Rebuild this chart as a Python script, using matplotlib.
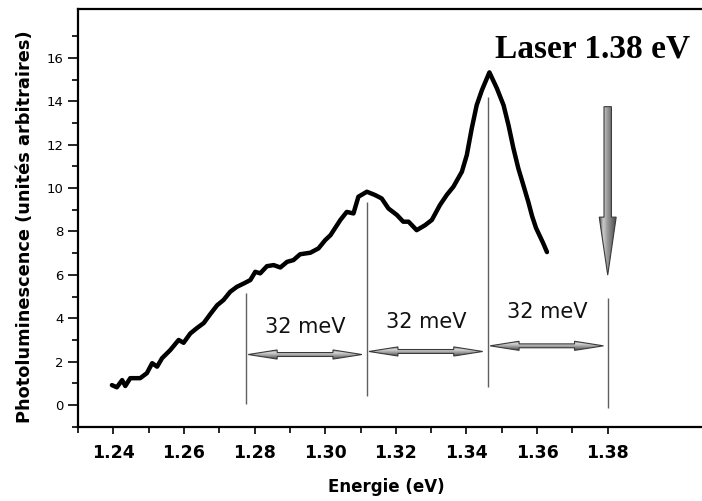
import numpy as np
import matplotlib
matplotlib.use("Agg")
import matplotlib.pyplot as plt
from matplotlib.patches import Polygon

# Photoluminescence spectrum (energy in eV, intensity in arbitrary units)
energy = [1.2396, 1.2410, 1.2425, 1.2434, 1.2448, 1.2476, 1.2495, 1.2510, 1.2524,
          1.2538, 1.2561, 1.2585, 1.2599, 1.2618, 1.2637, 1.2656, 1.2675, 1.2694,
          1.2712, 1.2731, 1.2750, 1.2769, 1.2788, 1.2802, 1.2816, 1.2835, 1.2854,
          1.2873, 1.2892, 1.2910, 1.2929, 1.2958, 1.2981, 1.3000, 1.3015, 1.3043,
          1.3061, 1.3080, 1.3094, 1.3118, 1.3141, 1.3160, 1.3179, 1.3203, 1.3221,
          1.3236, 1.3259, 1.3283, 1.3302, 1.3325, 1.3345, 1.3363, 1.3387, 1.3401,
          1.3415, 1.3429, 1.3444, 1.3465, 1.3486, 1.3505, 1.3519, 1.3533, 1.3547,
          1.3561, 1.3575, 1.3586, 1.3597, 1.3617, 1.3628]
intensity = [0.92, 0.82, 1.15, 0.88, 1.24, 1.24, 1.47, 1.93, 1.77,
             2.16, 2.53, 3.00, 2.87, 3.30, 3.55, 3.78, 4.20, 4.60,
             4.84, 5.22, 5.45, 5.60, 5.76, 6.14, 6.07, 6.40, 6.45,
             6.34, 6.60, 6.68, 6.95, 7.02, 7.22, 7.60, 7.83, 8.53,
             8.90, 8.83, 9.60, 9.83, 9.68, 9.52, 9.06, 8.76, 8.45,
             8.45, 8.06, 8.29, 8.53, 9.22, 9.70, 10.06, 10.75, 11.52,
             12.75, 13.82, 14.52, 15.33, 14.60, 13.82, 12.90, 11.83, 10.90,
             10.14, 9.37, 8.70, 8.16, 7.47, 7.05]

# Replica markers: vertical separators (position, top, bottom)
marker_x = [1.2776, 1.3118, 1.3461, 1.3800]
marker_top = [5.15, 9.37, 14.20, 4.95]
marker_bottom = [0.03, 0.43, 0.84, -0.15]

# Double arrows between markers
span_start = [1.2782, 1.3124, 1.3467]
span_end = [1.3104, 1.3446, 1.3788]
span_y = [2.33, 2.47, 2.73]
span_label = ["32 meV", "32 meV", "32 meV"]
span_label_y = [3.60, 3.84, 4.30]

# Laser line arrow
laser_energy = 1.38
laser_arrow_top = 13.75
laser_arrow_tip = 5.99
laser_text = "Laser 1.38 eV"

x_major = [1.24, 1.26, 1.28, 1.30, 1.32, 1.34, 1.36, 1.38]
x_minor = [1.23, 1.25, 1.27, 1.29, 1.31, 1.33, 1.35, 1.37]
y_major = [0, 2, 4, 6, 8, 10, 12, 14, 16]
y_minor = [-1, 1, 3, 5, 7, 9, 11, 13, 15, 17]

plt.rcParams['font.family'] = ['DejaVu Sans']

fig = plt.figure(figsize=(7.02, 5.01), dpi=100)
ax = fig.add_axes([78 / 702, 74 / 501, 1 - 78 / 702, 418 / 501])
xlim = (1.2301, 1.4067)
ylim = (-1.01, 18.25)


def gradient_fill(ax, poly, vertical, colors):
    """Fill a polygon patch with a linear grey gradient."""
    xs = [p[0] for p in poly.get_xy()]
    ys = [p[1] for p in poly.get_xy()]
    g = np.linspace(0, 1, 64)
    vals = np.interp(g, np.linspace(0, 1, len(colors)), colors)
    img = vals[:, None] if vertical else vals[None, :]
    im = ax.imshow(img, cmap='gray', vmin=0, vmax=1, aspect='auto',
                   extent=(min(xs), max(xs), min(ys), max(ys)),
                   origin='upper' if vertical else 'lower',
                   interpolation='bilinear', zorder=3)
    im.set_clip_path(poly)


def double_arrow(ax, x0, x1, y):
    hl, sh, hh = 0.0082, 0.09, 0.21
    pts = [(x0, y), (x0 + hl, y + hh), (x0 + hl, y + sh), (x1 - hl, y + sh),
           (x1 - hl, y + hh), (x1, y), (x1 - hl, y - hh), (x1 - hl, y - sh),
           (x0 + hl, y - sh), (x0 + hl, y - hh)]
    poly = Polygon(pts, closed=True, facecolor='none', edgecolor='#3a3a3a',
                   lw=0.8, zorder=4)
    ax.add_patch(poly)
    gradient_fill(ax, poly, True, [0.35, 0.85, 0.6, 0.3])


def down_arrow(ax, x, top, tip):
    sw, hw, hl = 0.00105, 0.0024, 2.67
    pts = [(x - sw, top), (x + sw, top), (x + sw, tip + hl), (x + hw, tip + hl),
           (x, tip), (x - hw, tip + hl), (x - sw, tip + hl)]
    poly = Polygon(pts, closed=True, facecolor='none', edgecolor='#3a3a3a',
                   lw=0.8, zorder=4)
    ax.add_patch(poly)
    gradient_fill(ax, poly, False, [0.25, 0.8, 0.6, 0.45, 0.3])


# Spectrum
ax.plot(energy, intensity, color='black', lw=3.2, solid_joinstyle='round',
        solid_capstyle='round', zorder=5)

# Separators, spans and labels
ax.vlines(marker_x, marker_bottom, marker_top, color='#606060', lw=1.0, zorder=2)
for x0, x1, y, lab, ly in zip(span_start, span_end, span_y, span_label, span_label_y):
    double_arrow(ax, x0, x1, y)
    ax.text((x0 + x1) / 2, ly, lab, ha='center', va='center', fontsize=15,
            color='#111111', zorder=6)

down_arrow(ax, laser_energy, laser_arrow_top, laser_arrow_tip)
ax.text(0.8245, 0.884, laser_text, transform=ax.transAxes, ha='center',
        va='baseline', fontsize=24, fontweight='bold',
        family=['Liberation Serif'], color='black')

ax.set_xlim(*xlim)
ax.set_ylim(*ylim)

# Axes styling
ax.spines['right'].set_visible(False)
for s in ('left', 'bottom', 'top'):
    ax.spines[s].set_linewidth(1.6)
ax.set_xticks(x_major)
ax.set_xticks(x_minor, minor=True)
ax.set_yticks(y_major)
ax.set_yticks(y_minor, minor=True)
ax.set_xticklabels([f"{v:.2f}" for v in x_major], fontsize=12.5, fontweight='bold')
ax.set_yticklabels([str(v) for v in y_major], fontsize=9.5)
ax.tick_params(axis='x', which='major', length=5, width=1.2, pad=7)
ax.tick_params(axis='x', which='minor', length=4, width=1.2)
ax.tick_params(axis='y', which='major', length=7, width=1.2, pad=3.5)
ax.tick_params(axis='y', which='minor', length=4.3, width=1.2)

ax.set_xlabel("Energie (eV)", fontsize=12, fontweight='bold')
ax.xaxis.set_label_coords(0.494, -0.122)
ax.set_ylabel("Photoluminescence (unités arbitraires)", fontsize=12.8, fontweight='bold')
ax.yaxis.set_label_coords(-0.07, 0.48)

fig.savefig("out.png", dpi=100)
